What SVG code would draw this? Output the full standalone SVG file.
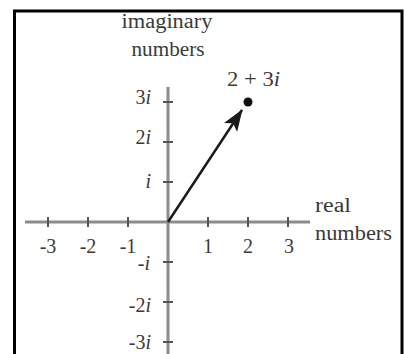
<svg xmlns="http://www.w3.org/2000/svg" width="404" height="354" viewBox="0 0 404 354">
<style>
text{font-family:"Liberation Serif","Times New Roman",serif;font-size:20px;fill:#3a3a3a}
.it{font-style:italic}
.axis{stroke:#8c8c8c;stroke-width:3;fill:none}
.tick{stroke:#555;stroke-width:2}
.vec{stroke:#1a1a1a;stroke-width:2.5;fill:none}
</style>
<defs>
<marker id="ah" viewBox="0 0 22 16" refX="21" refY="8" markerWidth="22" markerHeight="16" markerUnits="userSpaceOnUse" orient="auto">
<path d="M0,0 L22,8 L0,16 L5,8 Z" fill="#1a1a1a"/>
</marker>
</defs>
<rect id="frame" x="14.5" y="11" width="387.5" height="360" fill="#fff" stroke="#000" stroke-width="3"/>
<g id="axes">
<line class="axis" x1="25" y1="222" x2="310" y2="222"/>
<line class="axis" x1="168" y1="87" x2="168" y2="354"/>
<g id="ticks">
<line class="tick" x1="48" y1="217" x2="48" y2="227"/>
<line class="tick" x1="88" y1="217" x2="88" y2="227"/>
<line class="tick" x1="128" y1="217" x2="128" y2="227"/>
<line class="tick" x1="208" y1="217" x2="208" y2="227"/>
<line class="tick" x1="248" y1="217" x2="248" y2="227"/>
<line class="tick" x1="288" y1="217" x2="288" y2="227"/>
<line class="tick" x1="163" y1="102" x2="173" y2="102"/>
<line class="tick" x1="163" y1="142" x2="173" y2="142"/>
<line class="tick" x1="163" y1="182" x2="173" y2="182"/>
<line class="tick" x1="163" y1="262" x2="173" y2="262"/>
<line class="tick" x1="163" y1="302" x2="173" y2="302"/>
<line class="tick" x1="163" y1="342" x2="173" y2="342"/>
</g>
</g>
<g id="labels">
<text x="167" y="28" text-anchor="middle" textLength="91" lengthAdjust="spacingAndGlyphs">imaginary</text>
<text x="168" y="56" text-anchor="middle" textLength="73" lengthAdjust="spacingAndGlyphs">numbers</text>
<text x="315" y="212" textLength="36" lengthAdjust="spacingAndGlyphs">real</text>
<text x="315" y="240" textLength="77" lengthAdjust="spacingAndGlyphs">numbers</text>
<text x="48" y="253" text-anchor="middle">-3</text>
<text x="88" y="253" text-anchor="middle">-2</text>
<text x="128" y="253" text-anchor="middle">-1</text>
<text x="208" y="253" text-anchor="middle">1</text>
<text x="248" y="253" text-anchor="middle">2</text>
<text x="289" y="253" text-anchor="middle">3</text>
<text x="151" y="104" text-anchor="end">3<tspan class="it">i</tspan></text>
<text x="151" y="144" text-anchor="end">2<tspan class="it">i</tspan></text>
<text x="151" y="188" text-anchor="end"><tspan class="it">i</tspan></text>
<text x="150" y="270" text-anchor="end">-<tspan class="it">i</tspan></text>
<text x="151" y="312" text-anchor="end">-2<tspan class="it">i</tspan></text>
<text x="151" y="349" text-anchor="end">-3<tspan class="it">i</tspan></text>
<text x="227" y="86" textLength="53" lengthAdjust="spacingAndGlyphs">2 + 3<tspan class="it">i</tspan></text>
</g>
<g id="connectors">
<line class="vec" x1="168" y1="222" x2="242" y2="110" marker-end="url(#ah)"/>
</g>
<g id="point">
<circle cx="248" cy="102" r="4.5" fill="#111"/>
</g>
</svg>
